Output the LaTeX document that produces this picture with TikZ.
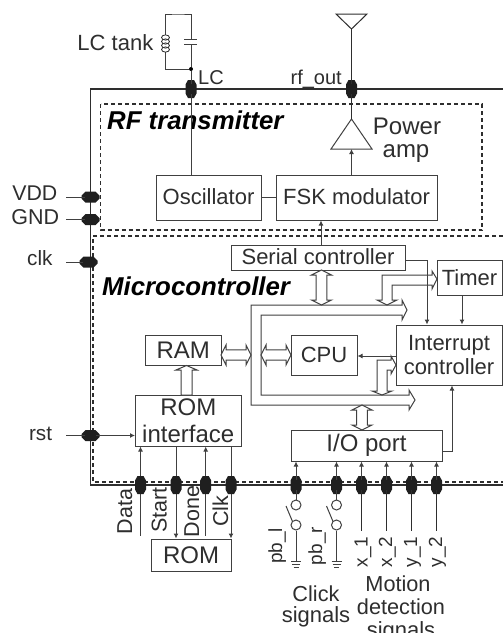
\documentclass[tikz,border=0pt]{standalone}
\usepackage{fontspec}
\setmainfont{Liberation Sans}
\usetikzlibrary{arrows.meta,calc}
\definecolor{ink}{HTML}{2E2E2E}
\definecolor{wire}{HTML}{404040}
\newcommand{\vdbl}[3]{\draw[busline] (#1,#2) -- ++(10,5) -- ++(-4.6,0) -- (#1+5.4,#3-5) -- (#1+10,#3-5) -- (#1,#3) -- (#1-10,#3-5) -- (#1-5.4,#3-5) -- (#1-5.4,#2+5) -- (#1-10,#2+5) -- cycle;}
\newcommand{\hdbl}[3]{\draw[busline] (#1,#3) -- ++(5,10) -- ++(0,-4.8) -- (#2-5,#3+5.2) -- (#2-5,#3+10) -- (#2,#3) -- (#2-5,#3-10) -- (#2-5,#3-5.2) -- (#1+5,#3-5.2) -- (#1+5,#3-10) -- cycle;}
\newcommand{\pinV}[3]{\node[pinhold] (#1) at (#2,#3) {};
  \fill[pinfill] (#2-3,#3-9) -- (#2+3,#3-9) -- (#2+5.5,#3-4.5) -- (#2+5.5,#3+4.5) -- (#2+3,#3+9) -- (#2-3,#3+9) -- (#2-5.5,#3+4.5) -- (#2-5.5,#3-4.5) -- cycle;}
\newcommand{\pinH}[3]{\node[pinhold] (#1) at (#2,#3) {};
  \fill[pinfill] (#2-9,#3-1.5) -- (#2-5,#3-5.5) -- (#2+5,#3-5.5) -- (#2+9,#3-1.5) -- (#2+9,#3+1.5) -- (#2+5,#3+5.5) -- (#2-5,#3+5.5) -- (#2-9,#3+1.5) -- cycle;}
\tikzset{
  base font/.style={font=\fontsize{22}{24}\selectfont},
  big font/.style={font=\fontsize{24}{27}\selectfont},
  small font/.style={font=\fontsize{20}{22}\selectfont},
  txt/.style={base font,text=ink,inner sep=0pt,anchor=base},
  title/.style={font=\fontsize{25.8}{28}\selectfont\bfseries\itshape,text=black,inner sep=0pt,anchor=base west},
  blk/.style={base font,text=ink,draw=wire,fill=white,line width=1pt,inner sep=0pt,align=center},
  wireline/.style={draw=wire,line width=1pt},
  arr/.style={wireline,-{Latex[length=5pt,width=5pt]}},
  thick wire/.style={draw=ink,line width=1.5pt},
  dash box/.style={draw=ink,line width=1.2pt,dash pattern=on 4pt off 3pt},
  busline/.style={draw=wire,line width=1pt,fill=white,line join=miter},
  pinhold/.style={inner sep=0pt,minimum size=10pt,draw=none},
  pinfill/.style={fill=black!88},
  vlabel/.style={font=\fontsize{21.5}{24}\selectfont,text=ink,inner sep=0pt,rotate=90,anchor=base},
  vsmall/.style={vlabel,font=\fontsize{19}{22}\selectfont},
}
\begin{document}
\begin{tikzpicture}[x=1pt,y=-1pt]
\useasboundingbox (0,0) rectangle (503,633);
\clip (0,0) rectangle (503,633);
\fill[white] (0,0) rectangle (503,633);

% chip and regions
\draw[thick wire] (503,89) -- (90.5,89) -- (90.5,485) -- (503,485);
\draw[dash box] (100.5,104) rectangle (482,230);
\draw[dash box] (510,236) -- (93,236) -- (93,482) -- (510,482);

% titles
\node[title] (rft) at (107,129) {RF transmitter};
\node[title] (mct) at (102,295) {Microcontroller};

% blocks
\node[blk,minimum width=105pt,minimum height=45pt] (osc) at (208.5,197.5) {\raisebox{1.5pt}{Oscillator}};
\node[blk,minimum width=161pt,minimum height=45pt] (fsk) at (356.5,197.5) {\raisebox{1.5pt}{FSK modulator}};
\node[blk,minimum width=174pt,minimum height=25pt] (ser) at (318,257.5) {\raisebox{1pt}{Serial controller}};
\node[blk,minimum width=65pt,minimum height=35pt] (tim) at (469.5,277.5) {Timer};
\node[blk,minimum width=106pt,minimum height=60pt] (int) at (449,355) {Interrupt\\controller};
\node[blk,minimum width=66pt,minimum height=40pt] (cpu) at (324,355) {\raisebox{-2pt}{CPU}};
\node[blk,big font,minimum width=151pt,minimum height=31pt] (io) at (366.5,445.5) {\raisebox{-3.4pt}{I/O port}};
\node[blk,big font,minimum width=75.5pt,minimum height=30.5pt] (ram) at (183.25,350.25) {\raisebox{-1pt}{RAM}};
\node[blk,big font,minimum width=105.5pt,minimum height=51pt] (rif) at (188.25,420.5) {ROM\\interface};
\node[blk,big font,minimum width=80pt,minimum height=32pt] (rom) at (191,555) {ROM};

% buses
\draw[busline] (402,305) -- (251,305) -- (251,405) -- (409,405) -- (409,410) -- (415,400) -- (409,390) -- (409,395) -- (261,395) -- (261,315) -- (402,315) -- (402,320) -- (407,310) -- (402,300) -- cycle;
\vdbl{321.5}{270}{305}
\vdbl{362}{405}{430}
\hdbl{261}{291}{355}
\hdbl{221}{251}{355}
\draw[busline] (186.5,365.5) -- (197,370) -- (192,370) -- (192,395) -- (181,395) -- (181,370) -- (176,370) -- cycle;
\draw[busline,fill=none] (437,279) -- (432,271) -- (432,275) -- (382,275) -- (382,300) -- (377,300) -- (387,305) -- (397,300) -- (392,300) -- (392,285) -- (432,285) -- (432,289) -- cycle;
\draw[busline,fill=none] (396,365) -- (391,356) -- (391,360) -- (377,360) -- (377,391) -- (372,391) -- (382,395) -- (392,391) -- (387,391) -- (387,370) -- (391,370) -- (391,374) -- cycle;

% tank and antenna
\coordinate (tanktop) at (178,14);
\node[circle,fill=black,inner sep=0pt,minimum size=4pt] (tankdot) at (191,69) {};
\pinV{pinlc}{191}{89}
\pinV{pinrf}{351.5}{89}
\coordinate (capa) at (191,39);
\coordinate (capb) at (191,44);
\coordinate (inda) at (165.5,35);
\coordinate (indb) at (165.5,52);
\draw[wireline] (capa) |- (tanktop) -| (inda);
\draw[wireline] (indb) |- (tankdot);
\draw[wireline] (capb) -- (tankdot);
\draw[wireline] ($(capa)+(-7,0)$) -- ($(capa)+(6,0)$);
\draw[wireline] ($(capb)+(-7,0)$) -- ($(capb)+(6,0)$);
\foreach \yy in {37,41,45,49} \draw[draw=ink,line width=.8pt] (165.5,\yy+.5) ellipse (4 and 2.6);
\draw[wireline] (tankdot) -- (pinlc);
\draw[wireline] (pinlc) -- (osc.north -| pinlc);
\coordinate (anttip) at (351.5,29);
\draw[draw=ink,line width=1pt] (336,14) -- (367,14) -- (anttip) -- cycle;
\draw[draw=ink,line width=1pt] (anttip) -- (pinrf);
\coordinate (paapex) at (351.5,119);
\coordinate (pabase) at (351.5,149);
\draw[draw=wire,line width=1pt] (paapex) -- (372,149) -- (331,149) -- cycle;
\draw[draw=ink,line width=1pt] (pinrf) -- (paapex);
\draw[arr] (fsk.north -| pabase) -- (pabase);
\draw[wireline] (osc.east) -- (fsk.west);
\draw[arr] (ser.north -| 321,0) -- (fsk.south -| 321,0);

% controller wires
\coordinate (serout) at (405,260);
\draw[arr] (serout) -| (int.north -| 427,0);
\draw[arr] (tim.south -| 462,0) -- (int.north -| 462,0);
\draw[arr] (int.west |- 0,356) -- (cpu.east |- 0,356);
\draw[arr] (io.east |- 0,451) -| (int.south -| 452,0);

% side pins
\pinH{pinvdd}{90.5}{197}
\pinH{pingnd}{90.5}{219.5}
\pinH{pinclk}{88.5}{262}
\pinH{pinrst}{90.5}{435.5}
\coordinate (invdd) at (66,197);
\coordinate (ingnd) at (66,219.5);
\coordinate (inclk) at (66,262);
\coordinate (inrst) at (66,435.5);
\draw[wireline] (invdd) -- (pinvdd);
\draw[wireline] (ingnd) -- (pingnd);
\draw[wireline] (inclk) -- (pinclk);
\draw[wireline] (inrst) -- (pinrst);
\draw[arr] (pinrst) -- (rif.west |- pinrst);

% ROM pins
\coordinate (da0) at (140.5,535.5);
\coordinate (do0) at (205.7,535.5);
\coordinate (st0) at (176,446);
\coordinate (ck0) at (231,446);
\draw[arr] (da0) -- (rif.south -| da0);
\draw[arr] (do0) -- (rif.south -| do0);
\draw[arr] (rif.south -| st0) -- (rom.north -| st0);
\draw[arr] (rif.south -| ck0) -- (rom.north -| ck0);
\pinV{pda}{140.5}{485}
\pinV{pst}{176}{485}
\pinV{pdo}{205.7}{485}
\pinV{pck}{231}{485}

% IO pins
\foreach \nm/\xx in {pa/296,pb/336.5,pc/361.5,pd/386.5,pe/411.5,pf/436.5} {
  \pinV{\nm}{\xx}{485}
  \draw[arr] (\nm) -- (io.south -| \nm);
}
\foreach \nm in {pc,pd,pe,pf} \draw[draw=ink,line width=1pt] (\nm) -- ($(\nm)+(0,45.5)$);
\foreach \nm in {pa,pb} {
  \node[circle,draw=wire,line width=1pt,minimum size=10pt,inner sep=0pt] (\nm u) at ($(\nm)+(0,20)$) {};
  \node[circle,draw=wire,line width=1pt,minimum size=10pt,inner sep=0pt] (\nm d) at ($(\nm)+(0,40)$) {};
  \coordinate (\nm g) at ($(\nm)+(0,76)$);
  \draw[wireline] (\nm) -- (\nm u);
  \draw[wireline] (\nm d) -- (\nm g);
  \draw[wireline] ($(\nm)+(-10,21)$) -- ($(\nm)+(-3.5,36.5)$);
  \draw[wireline] ($(\nm g)+(-5,0)$) -- ($(\nm g)+(5,0)$);
  \draw[draw=wire,line width=.8pt] ($(\nm g)+(-4,3)$) -- ($(\nm g)+(4,3)$);
  \draw[draw=wire,line width=.8pt] ($(\nm g)+(-2.5,6)$) -- ($(\nm g)+(2.5,6)$);
}

% labels
\node[txt,anchor=base east] (tlc) at (153.5,50) {LC tank};
\node[txt,small font,anchor=base west] (tl) at (198,84) {LC};
\node[txt,small font,anchor=base east] (trf) at (342,84) {rf\_out};
\node[txt,big font] (tpow) at (407,134) {Power};
\node[txt,big font] (tamp) at (406,157) {amp};
\node[txt,font=\fontsize{21.3}{24}\selectfont,anchor=base east] (tvdd) at (57.5,200.7) {VDD};
\node[txt,font=\fontsize{21.5}{24}\selectfont,anchor=base east] (tgnd) at (59.3,224) {GND};
\node[txt,font=\fontsize{20.7}{24}\selectfont,anchor=base east] (tclk) at (52.7,265.7) {clk};
\node[txt,font=\fontsize{20.7}{24}\selectfont,anchor=base east] (trst) at (52.3,440) {rst};
\node[vlabel] (lda) at (132,511.5) {Data};
\node[vlabel] (lst) at (166.7,510) {Start};
\node[vlabel] (ldo) at (199,511.5) {Done};
\node[vlabel] (lck) at (228,511) {Clk};
\node[vsmall] (lpl) at (282,546) {pb\_l};
\node[vsmall] (lpr) at (322,546) {pb\_r};
\node[vsmall] (lx1) at (367.5,552) {x\_1};
\node[vsmall] (lx2) at (392,552) {x\_2};
\node[vsmall] (ly1) at (417,552) {y\_1};
\node[vsmall] (ly2) at (442,552) {y\_2};
\node[txt,font=\fontsize{21.7}{24}\selectfont] (tc1) at (316,601) {Click};
\node[txt] (tc2) at (316,622.7) {signals};
\node[txt,font=\fontsize{21.7}{24}\selectfont] (tm1) at (398,591.7) {Motion};
\node[txt,font=\fontsize{21.7}{24}\selectfont] (tm2) at (401,614) {detection};
\node[txt] (tm3) at (401,637) {signals};
\end{tikzpicture}
\end{document}
